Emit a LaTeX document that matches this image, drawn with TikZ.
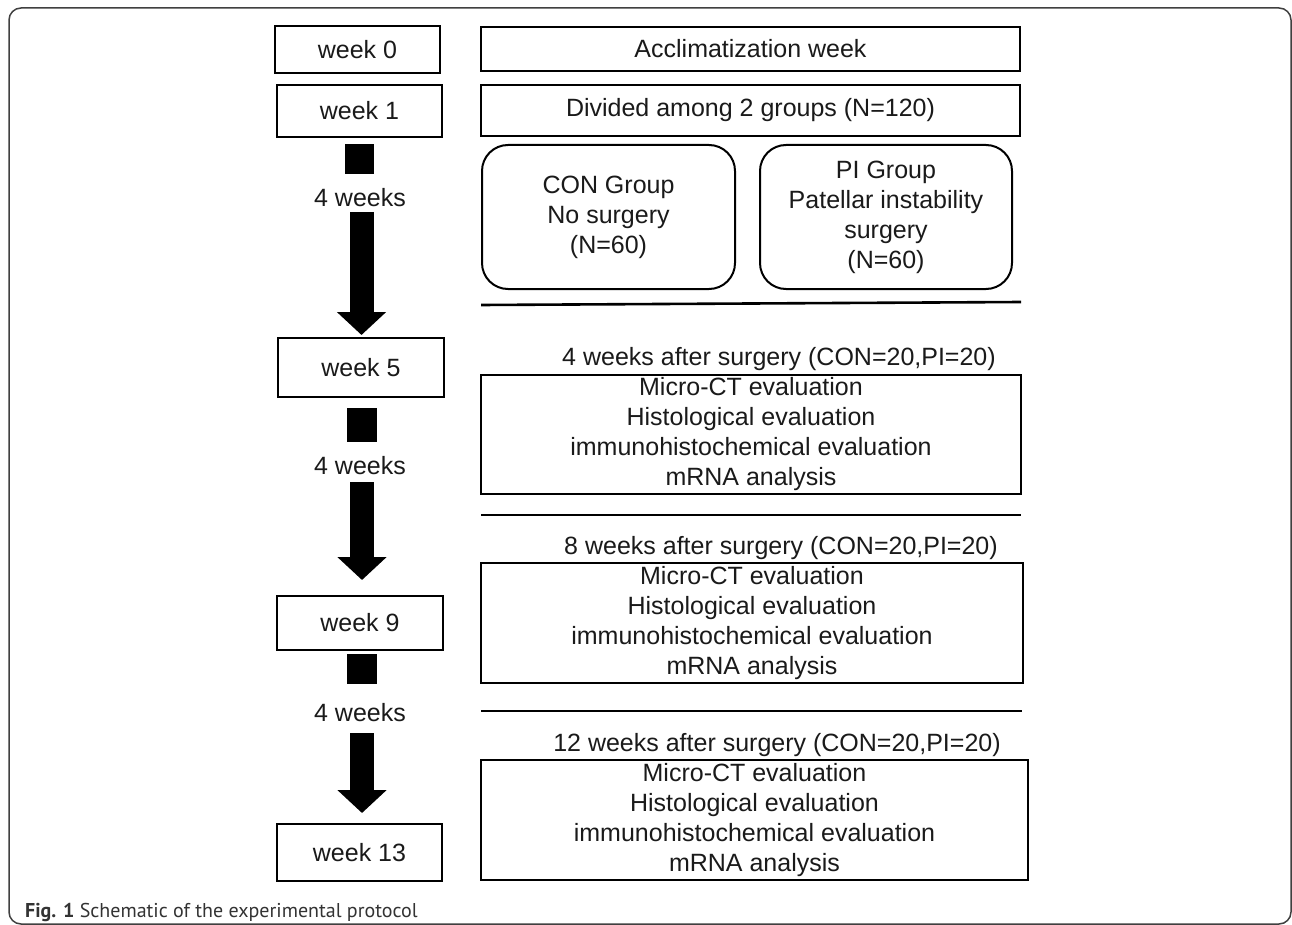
\documentclass[tikz,border=0pt]{standalone}
\usepackage{fontspec}
\setmainfont{Liberation Sans}
\newfontfamily\capfont{PT Sans}
\usetikzlibrary{arrows.meta}
\definecolor{txt}{HTML}{1A1A1A}
\begin{document}
\begin{tikzpicture}[x=1pt,y=-1pt,
  base/.style={inner sep=0pt, outer sep=0pt, text=txt, font=\fontsize{25}{30}\selectfont, align=center},
  wk/.style={base, draw=black, line width=2.6pt, minimum width=165pt},
  rbox/.style={base, draw=black, line width=2.6pt},
  grp/.style={base, draw=black, line width=2pt, rounded corners=26pt, minimum width=252pt, minimum height=144pt},
  lbl/.style={base},
  sq/.style={fill=black, inner sep=0pt, outer sep=0pt},
  fatarr/.style={draw=black, line width=24pt, -{Triangle[width=48pt,length=23pt]}},
  sepline/.style={draw=black, line width=2.6pt},
]
\useasboundingbox (0,0) rectangle (1292,925);
\fill[white] (0,0) rectangle (1292,925);
% outer frame
\draw[line width=1.5pt, draw=black!75, rounded corners=12pt] (9,8) rectangle (1291,924);

% left column
\node[wk, minimum height=47pt] (w0) at (357.5,49.5) {week 0};
\node[wk, minimum height=52pt] (w1) at (359.5,111) {week 1};
\node[sq, minimum width=29pt, minimum height=30pt] (s1) at (359.5,159) {};
\node[lbl] (l1) at (360,198) {4 weeks};
\coordinate (a1s) at (361.5,212);
\node[wk, minimum width=166pt, minimum height=59pt] (w5) at (361,367.5) {week 5};
\draw[fatarr] (a1s) -- ([yshift=3pt]a1s |- w5.north);

\node[sq, minimum width=30pt, minimum height=34pt] (s2) at (362,424.5) {};
\node[lbl] (l2) at (360,466) {4 weeks};
\coordinate (a2s) at (362,482);
\node[wk, minimum width=166pt, minimum height=54pt] (w9) at (360,623) {week 9};
\draw[fatarr] (a2s) -- ([yshift=16pt]a2s |- w9.north);

\node[sq, minimum width=30pt, minimum height=30pt] (s3) at (362,669) {};
\node[lbl] (l3) at (360,713) {4 weeks};
\coordinate (a3s) at (362,733);
\node[wk, minimum height=57pt] (w13) at (359.5,852.5) {week 13};
\draw[fatarr] (a3s) -- ([yshift=11pt]a3s |- w13.north);

% right column
\node[rbox, minimum width=539pt, minimum height=44pt] (acc) at (750.5,49) {Acclimatization week};
\node[rbox, minimum width=539pt, minimum height=51pt] (div) at (750.5,110.5) {Divided among 2 groups (N=120)};
\node[grp, minimum width=253pt] (con) at (608.5,217) {CON Group\\No surgery\\(N=60)};
\node[grp] (pi) at (886,217) {PI Group\\Patellar instability\\surgery\\(N=60)};

\coordinate (sepA1) at (481,305);
\coordinate (sepB1) at (1021,302);
\draw[sepline] (sepA1) -- (sepB1);
\node[lbl] (t1) at (779,359) {4 weeks after surgery (CON=20,PI=20)};
\node[rbox, minimum width=540pt, minimum height=119pt] (b1) at (751,434.5)
  {Micro-CT evaluation\\Histological evaluation\\immunohistochemical evaluation\\mRNA analysis};

\coordinate (sepA2) at (481,515);
\coordinate (sepB2) at (1021,515);
\draw[sepline] (sepA2) -- (sepB2);
\node[lbl] (t2) at (781,548) {8 weeks after surgery (CON=20,PI=20)};
\node[rbox, minimum width=542pt, minimum height=120pt] (b2) at (752,623)
  {Micro-CT evaluation\\Histological evaluation\\immunohistochemical evaluation\\mRNA analysis};

\coordinate (sepA3) at (481,711);
\coordinate (sepB3) at (1022,711);
\draw[sepline] (sepA3) -- (sepB3);
\node[lbl] (t3) at (777,745) {12 weeks after surgery (CON=20,PI=20)};
\node[rbox, minimum width=547pt, minimum height=120pt] (b3) at (754.5,820)
  {Micro-CT evaluation\\Histological evaluation\\immunohistochemical evaluation\\mRNA analysis};

% caption
\node[anchor=base west, inner sep=0pt, text=black!80, font=\capfont\fontsize{20}{24}\selectfont] (cap) at (25,917)
  {\textbf{Fig. 1} Schematic of the experimental protocol};
\end{tikzpicture}
\end{document}
